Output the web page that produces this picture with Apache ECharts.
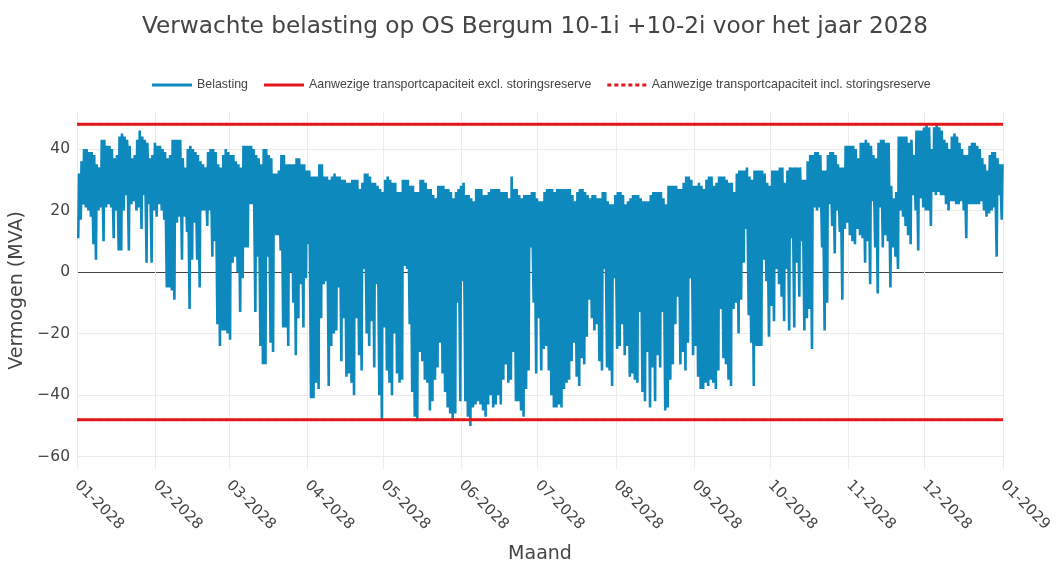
<!DOCTYPE html>
<html>
<head>
<meta charset="utf-8">
<title>Verwachte belasting OS Bergum 2028</title>
<script src="https://cdn.jsdelivr.net/npm/echarts@6/dist/echarts.min.js"></script>
<style>
  html, body { margin: 0; padding: 0; background: #fff; }
  #chart { width: 1056px; height: 563px; }
</style>
</head>
<body>
<div id="chart"></div>
<script>
// daily peak (evening) of the load, MVA, day 0 = 1 jan 2028
const dailyMax = [
  32, 36, 40, 40, 39, 39, 38, 35, 34, 43,
  43, 41, 41, 40, 37, 38, 44, 45, 44, 43,
  41, 37, 38, 43, 46, 44, 43, 42, 37, 38,
  42, 41, 41, 40, 39, 37, 38, 43, 43, 43,
  43, 37, 34, 40, 41, 40, 39, 38, 36, 35,
  34, 39, 40, 40, 39, 35, 34, 38, 40, 39,
  38, 38, 36, 35, 34, 41, 41, 41, 41, 40,
  38, 37, 35, 40, 40, 38, 37, 32, 32, 33,
  38, 38, 35, 35, 35, 35, 37, 37, 35, 35,
  33, 33, 31, 31, 31, 35, 35, 31, 31, 30,
  31, 32, 31, 31, 30, 30, 29, 29, 30, 30,
  30, 27, 29, 32, 32, 31, 29, 29, 28, 27,
  26, 30, 31, 30, 29, 29, 26, 26, 30, 30,
  30, 28, 28, 26, 26, 30, 30, 29, 27, 27,
  25, 24, 28, 28, 28, 27, 27, 26, 24, 26,
  27, 28, 29, 25, 25, 24, 23, 27, 27, 27,
  25, 25, 26, 27, 27, 27, 27, 26, 26, 26,
  24, 31, 27, 27, 25, 24, 25, 25, 25, 26,
  26, 24, 23, 23, 26, 27, 27, 27, 26, 27,
  27, 27, 27, 27, 27, 25, 23, 26, 27, 27,
  26, 25, 24, 25, 25, 24, 24, 26, 26, 23,
  22, 22, 25, 26, 26, 25, 22, 23, 24, 25,
  25, 25, 24, 23, 23, 23, 25, 26, 26, 26,
  26, 24, 22, 28, 28, 28, 28, 27, 27, 29,
  31, 31, 30, 28, 28, 29, 28, 27, 30, 31,
  31, 28, 29, 31, 31, 31, 30, 29, 29, 26,
  32, 33, 33, 33, 34, 31, 30, 33, 33, 33,
  33, 32, 29, 28, 33, 33, 33, 34, 34, 29,
  33, 34, 34, 34, 34, 34, 30, 30, 36, 38,
  38, 39, 39, 38, 33, 33, 38, 39, 39, 38,
  35, 34, 34, 41, 41, 41, 41, 40, 37, 42,
  42, 43, 42, 41, 38, 37, 42, 43, 43, 42,
  42, 28, 24, 26, 44, 44, 44, 44, 42, 43,
  38, 46, 46, 46, 47, 48, 47, 40, 47, 48,
  47, 46, 43, 42, 40, 44, 45, 44, 42, 40,
  38, 38, 41, 42, 42, 41, 40, 37, 35, 33,
  38, 39, 39, 37, 35, 35
];
// daily low (midday, solar feed-in), MVA
const dailyMin = [
  11, 17, 22, 21, 20, 18, 9, 4, 20, 21,
  10, 21, 22, 21, 11, 20, 7, 7, 20, 25,
  7, 22, 23, 20, 21, 14, 25, 3, 22, 3,
  20, 18, 22, 20, 17, -5, -5, -6, -9, 16,
  18, 4, 18, 13, -12, 4, 16, 4, -5, 20,
  20, 15, 20, 5, 10, -17, -24, -19, -19, -20,
  -22, 3, 5, 0, -13, -2, 8, 8, 22, 22,
  -13, 5, -24, -30, -30, 5, -23, -26, 12, 12,
  7, -18, -18, -24, 0, -10, -27, -15, -4, -18,
  -2, 9, -41, -41, -36, -38, -15, -4, -3, -37,
  -24, -20, -19, -5, -29, -15, -34, -33, -36, -40,
  -15, -27, -32, 1, -20, -24, -16, -31, -4, -40,
  -48, -18, -32, -36, -40, -20, -33, -36, -35, 2,
  1, -17, -39, -47, -48, -26, -29, -35, -36, -45,
  -42, -35, -31, -23, -33, -39, -44, -46, -48, -46,
  -10, -42, -3, -42, -47, -50, -44, -43, -42, -43,
  -45, -47, -43, -40, -44, -43, -40, -43, -35, -30,
  -36, -35, -26, -42, -42, -45, -47, -38, -32, 8,
  -10, -33, -15, -32, -25, -24, -32, -40, -44, -44,
  -43, -44, -38, -36, -35, -29, -23, -34, -37, -28,
  -30, -21, -9, -15, -19, -17, -29, -32, 1, -31,
  -32, -37, -2, -25, -24, -17, -27, -24, -34, -33,
  -35, -36, -13, -39, -42, -26, -44, -31, -42, -27,
  -31, -13, -45, -44, -35, -30, -17, -8, -30, -26,
  -32, -23, -2, -27, -24, -34, -38, -38, -36, -37,
  -35, -36, -38, -32, -12, -28, -30, -35, -37, -12,
  -10, -20, -9, 3, 14, -14, -23, -37, -24, -24,
  -24, 4, -3, -21, -11, -16, 1, -4, -8, -16,
  1, -19, 11, -18, 3, -8, 10, -19, -15, -12,
  -25, 21, 20, 21, 8, -19, -10, 22, 15, 6,
  20, 13, -9, 14, 16, 12, 10, 9, 14, 12,
  11, 3, 10, -4, 23, 8, -7, 21, 8, 12,
  10, -5, 8, 5, 1, 20, 18, 15, 12, 9,
  25, 20, 7, 24, 21, 20, 20, 15, 26, 25,
  26, 25, 25, 22, 20, 23, 23, 22, 22, 23,
  20, 11, 22, 22, 22, 22, 22, 23, 20, 18,
  19, 20, 21, 5, 25, 17
];
const capacityExcl = [48, -48];
const capacityIncl = [48, -48];
const monthLabels = ['01-2028', '02-2028', '03-2028', '04-2028', '05-2028', '06-2028', '07-2028',
  '08-2028', '09-2028', '10-2028', '11-2028', '12-2028', '01-2029'];
const yTicks = [-60, -40, -20, 0, 20, 40];

const NAME_LOAD = 'Belasting';
const NAME_EXCL = 'Aanwezige transportcapaciteit excl. storingsreserve';
const NAME_INCL = 'Aanwezige transportcapaciteit incl. storingsreserve';
const DAY = 86400000;
const year = 2028;
const t0 = Date.UTC(year, 0, 1);
const nDays = (Date.UTC(year + 1, 0, 1) - t0) / DAY;   // 366, schrikkeljaar
// x-as in dagen sinds 1 jan; maandgrenzen uit de labels
const monthTicks = monthLabels.map(l => {
  const [m, y] = l.split('-');
  return (Date.UTC(+y, +m - 1, 1) - t0) / DAY;
});

// per dag: dal rond het middaguur, piek in de avond
const belasting = [];
dailyMax.forEach((mx, d) => {
  belasting.push([d + 12 / 24, dailyMin[d]]);
  belasting.push([d + 19 / 24, mx]);
});

const capSeries = (name, values, dash, width, z) => values.map(v => ({
  name,
  type: 'line',
  symbol: 'none',
  silent: true,
  z,
  lineStyle: { color: '#e3171b', width, type: dash },
  itemStyle: { color: '#e3171b' },
  data: [[0, v], [nDays, v]]
}));

// legend icons: plain line and dotted line, no marker
const ICON_LINE = 'path://M0,0H40V3H0Z';
const ICON_DOT = 'path://M0,0h4v3h-4zM7,0h4v3h-4zM14,0h4v3h-4zM21,0h4v3h-4zM28,0h4v3h-4zM35,0h4v3h-4z';

const fmtMinus = v => (v < 0 ? '\u2212' + Math.abs(v) : String(v));
const fmtMonth = val => {
  const i = monthTicks.findIndex(t => Math.abs(t - val) < 0.5);
  return i >= 0 ? monthLabels[i] : '';
};

const chart = echarts.init(document.getElementById('chart'));
chart.setOption({
  animation: false,
  backgroundColor: '#fff',
  textStyle: { fontFamily: 'DejaVu Sans' },
  title: {
    text: 'Verwachte belasting op OS Bergum 10-1i +10-2i voor het jaar 2028',
    left: 137,
    top: 10,
    textStyle: { fontFamily: 'DejaVu Sans', fontSize: 23.2, fontWeight: 'normal', color: '#444' }
  },
  legend: {
    top: 74,
    left: 147,
    itemWidth: 40,
    itemHeight: 3,
    itemGap: 16,
    textStyle: { fontFamily: 'Liberation Sans', fontSize: 12.4, color: '#444' },
    data: [
      { name: NAME_LOAD, icon: ICON_LINE },
      { name: NAME_EXCL, icon: ICON_LINE },
      { name: NAME_INCL, icon: ICON_DOT }
    ]
  },
  grid: { left: 77, right: 53, top: 112, bottom: 94, outerBoundsMode: 'none' },
  xAxis: {
    type: 'value',
    min: 0,
    max: nDays,
    name: 'Maand',
    nameLocation: 'middle',
    nameGap: 76,
    nameTextStyle: { fontSize: 19, color: '#444' },
    axisLine: { show: false },
    axisTick: { show: false, customValues: monthTicks },
    axisLabel: {
      customValues: monthTicks,
      rotate: -45,
      fontSize: 15,
      color: '#444',
      margin: 14,
      formatter: fmtMonth
    },
    splitLine: { show: true, lineStyle: { color: '#ebebeb', width: 1 } }
  },
  yAxis: {
    type: 'value',
    min: -64,
    max: 52,
    name: 'Vermogen (MVA)',
    nameLocation: 'middle',
    nameGap: 39,
    nameTextStyle: { fontSize: 19, color: '#444' },
    axisLine: { show: false },
    axisTick: { show: false, customValues: yTicks },
    axisLabel: { customValues: yTicks, fontSize: 15.5, color: '#444', margin: 7, formatter: fmtMinus },
    splitLine: {
      show: true,
      lineStyle: { color: yTicks.map(v => (v === 0 ? '#444' : '#ebebeb')), width: 1 }
    }
  },
  series: [
    {
      name: NAME_LOAD,
      type: 'line',
      symbol: 'none',
      z: 2,
      lineStyle: { color: '#0e89bd', width: 2.6 },
      itemStyle: { color: '#0e89bd' },
      data: belasting
    },
    ...capSeries(NAME_EXCL, capacityExcl, 'solid', 3, 4),
    ...capSeries(NAME_INCL, capacityIncl, [4, 3], 2, 3)
  ]
});
</script>
</body>
</html>
